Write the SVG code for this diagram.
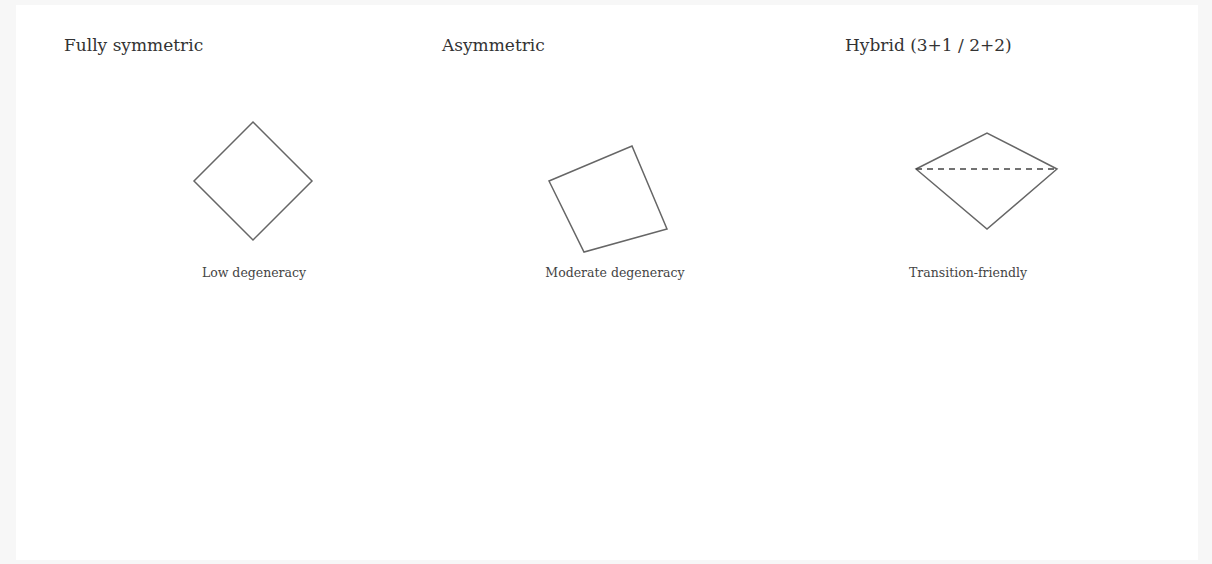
<svg xmlns="http://www.w3.org/2000/svg" width="1212" height="564" viewBox="0 0 1212 564">
<style>
.title{font-family:"DejaVu Serif","Liberation Serif",serif;font-size:17px;fill:#333}
.label{font-family:"DejaVu Serif","Liberation Serif",serif;font-size:12.5px;fill:#444;text-anchor:middle}
.shape{fill:none;stroke:#666;stroke-width:1.5;stroke-linejoin:miter}
.dash{fill:none;stroke:#444;stroke-width:1.3;stroke-dasharray:6 5}
</style>
<rect x="0" y="0" width="1212" height="564" fill="#f7f7f7"/>
<rect x="16" y="5" width="1182" height="555" fill="#ffffff"/>
<g id="fully-symmetric">
<text class="title" x="64" y="51">Fully symmetric</text>
<polygon class="shape" points="253,122 312,181 253,240 194,181"/>
<text class="label" x="254" y="277">Low degeneracy</text>
</g>
<g id="asymmetric">
<text class="title" x="442" y="51">Asymmetric</text>
<polygon class="shape" points="549,181 632,146 667,229 584,252"/>
<text class="label" x="615" y="277">Moderate degeneracy</text>
</g>
<g id="hybrid">
<text class="title" x="845" y="51">Hybrid (3+1 / 2+2)</text>
<polygon class="shape" points="916,169 987,133 1057,169 987,229"/>
<line class="dash" x1="916" y1="169" x2="1057" y2="169"/>
<text class="label" x="968" y="277">Transition-friendly</text>
</g>
<g id="connectors"/>
</svg>
